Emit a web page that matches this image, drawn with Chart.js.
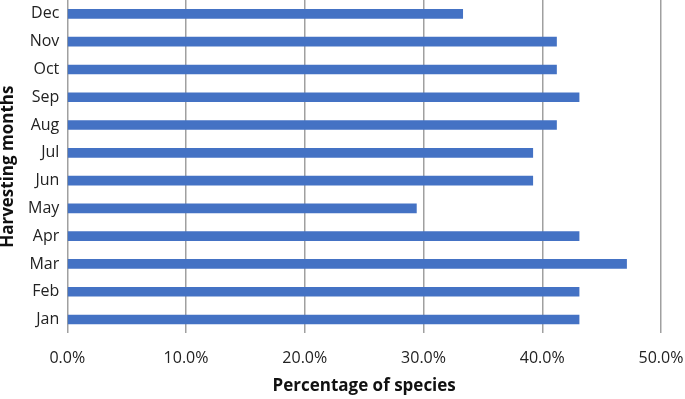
<!DOCTYPE html>
<html>
<head>
<meta charset="utf-8">
<script src="https://cdn.jsdelivr.net/npm/chart.js@4/dist/chart.umd.min.js"></script>
<style>
	html, body { margin: 0; padding: 0; background: #fff; }
	#wrap { width: 685px; height: 399px; position: relative; }
</style>
</head>
<body>
<div id="wrap"><canvas id="chart"></canvas></div>
<script>
const months = ['Jan', 'Feb', 'Mar', 'Apr', 'May', 'Jun', 'Jul', 'Aug', 'Sep', 'Oct', 'Nov', 'Dec'];
const speciesPct = [43.1, 43.1, 47.1, 43.1, 29.4, 39.2, 39.2, 41.2, 43.1, 41.2, 41.2, 33.3];
const xTicks = [0, 10, 20, 30, 40, 50];

const fontFamily = '"Open Sans", "Noto Sans", sans-serif';

new Chart(document.getElementById('chart'), {
	type: 'bar',
	data: {
		labels: months,
		datasets: [{
			data: speciesPct,
			backgroundColor: '#4472C4',
			borderWidth: 0,
			barThickness: 9
		}]
	},
	options: {
		indexAxis: 'y',
		responsive: true,
		maintainAspectRatio: false,
		animation: false,
		layout: { padding: { top: 0, right: 24, bottom: 3, left: 0 } },
		plugins: {
			legend: { display: false },
			tooltip: { enabled: false }
		},
		scales: {
			x: {
				min: xTicks[0],
				max: xTicks[xTicks.length - 1],
				afterBuildTicks: axis => { axis.ticks = xTicks.map(v => ({ value: v })); },
				afterFit: axis => { axis.paddingLeft = 0; axis.paddingRight = 0; },
				grid: { color: '#a0a0a0', lineWidth: 1.5, drawTicks: false },
				border: { display: false },
				ticks: {
					padding: 15,
					color: '#222',
					font: { family: fontFamily, size: 16 },
					callback: v => v.toFixed(1) + '%'
				},
				title: {
					display: true,
					text: 'Percentage of species',
					color: '#111',
					font: { family: fontFamily, size: 17, weight: 'bold' },
					padding: { top: -7, bottom: 0 }
				}
			},
			y: {
				reverse: true,
				afterFit: axis => { axis.paddingTop = 0; axis.paddingBottom = 0; },
				grid: { display: false, drawTicks: false },
				border: { display: false },
				ticks: {
					padding: 8,
					color: '#222',
					font: { family: fontFamily, size: 16 }
				},
				title: {
					display: true,
					text: 'Harvesting months',
					color: '#111',
					font: { family: fontFamily, size: 17, weight: 'bold', lineHeight: 1 },
					padding: { top: 0, bottom: 3 }
				}
			}
		}
	}
});
</script>
</body>
</html>
